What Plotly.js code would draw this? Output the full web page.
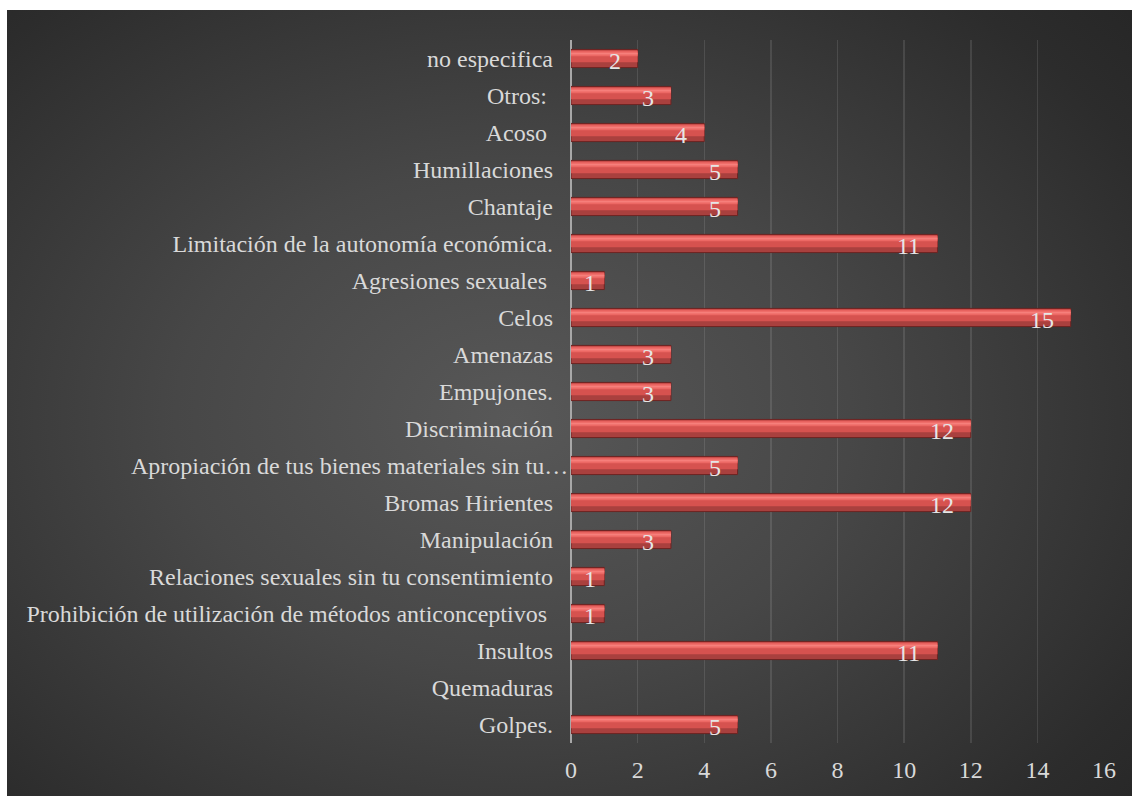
<!DOCTYPE html>
<html>
<head>
<meta charset="utf-8">
<script src="https://cdn.plot.ly/plotly-3.0.1.min.js"></script>
<style>
  html, body { margin: 0; padding: 0; background: #ffffff; width: 1132px; height: 796px; overflow: hidden; }
  #bg { position: absolute; left: 7px; top: 10px; width: 1125px; height: 786px;
        background: radial-gradient(ellipse 75% 80% at 45% 52%, #585858 0%, #474747 40%, #2c2c2c 85%, #262626 100%); }
  #chart { position: absolute; left: 0; top: 0; width: 1132px; height: 796px; }
</style>
</head>
<body>
<div id="bg"></div>
<div id="chart"></div>
<script>
// Categories listed bottom to top
const categories = [
  "Golpes.",
  "Quemaduras",
  "Insultos",
  "Prohibición de utilización de métodos anticonceptivos\u00a0",
  "Relaciones sexuales sin tu consentimiento",
  "Manipulación",
  "Bromas Hirientes",
  "Apropiación de tus bienes materiales sin tu…",
  "Discriminación",
  "Empujones.",
  "Amenazas",
  "Celos",
  "Agresiones sexuales\u00a0",
  "Limitación de la autonomía económica.",
  "Chantaje",
  "Humillaciones",
  "Acoso\u00a0",
  "Otros:\u00a0",
  "no especifica"
];
const values = [5, null, 11, 1, 1, 3, 12, 5, 12, 3, 3, 15, 1, 11, 5, 5, 4, 3, 2];
const xTicks = [0, 2, 4, 6, 8, 10, 12, 14, 16];
// the truncated label sits closer to the axis in the original
const closeLabel = "Apropiación de tus bienes materiales sin tu…";

const FONT = "'Liberation Serif', 'Times New Roman', serif";
const TXT = "#d9d9d9";
const W = 0.49;

function layer(color, offset, width, lineColor) {
  return {
    type: "bar", orientation: "h", x: values, y: categories,
    width: W * width, offset: offset,
    marker: { color: color, line: { color: lineColor || "rgba(0,0,0,0)", width: lineColor ? 1 : 0 } },
    hoverinfo: "skip", showlegend: false
  };
}

const traces = [
  layer("#a9403e", -W / 2, 1, "#6e2422"),
  layer("#d6524f", -W / 2 + W * 0.3, 0.66),
  layer("#ec6864", -W / 2 + W * 0.62, 0.28),
  layer("#f67f7b", -W / 2 + W * 0.72, 0.1)
];

const annotations = [];
categories.forEach((c, i) => {
  if (values[i] === null || values[i] === undefined) return;
  annotations.push({
    x: values[i], y: c, xref: "x", yref: "y",
    text: String(values[i]), showarrow: false,
    xanchor: "right", yanchor: "middle", xshift: values[i] < 2 ? -6 : -15, yshift: -2,
    font: { family: FONT, size: 24, color: "#e6e6e6" }
  });
});
annotations.push({
  x: 0, y: closeLabel, xref: "x", yref: "y", text: closeLabel, showarrow: false,
  xanchor: "right", yanchor: "middle", xshift: -1,
  font: { family: FONT, size: 24, color: TXT }
});

const layout = {
  width: 1132, height: 796,
  margin: { l: 571, r: 28, t: 40, b: 52.5, pad: 0 },
  paper_bgcolor: "rgba(0,0,0,0)",
  plot_bgcolor: "rgba(0,0,0,0)",
  barmode: "overlay",
  showlegend: false,
  font: { family: FONT, size: 24, color: TXT },
  xaxis: {
    range: [0, 16], tickvals: xTicks, ticktext: xTicks.map(String),
    showgrid: true, gridcolor: "rgba(255,255,255,0.11)", gridwidth: 1.5,
    zeroline: true, zerolinecolor: "#a8a8a8", zerolinewidth: 2,
    showline: false, ticks: "", ticklabelstandoff: 10,
    tickfont: { family: FONT, size: 24, color: TXT },
    fixedrange: true
  },
  yaxis: {
    type: "category", categoryorder: "array", categoryarray: categories,
    tickvals: categories,
    ticktext: categories.map(c => c === closeLabel ? "" : c),
    range: [-0.5, categories.length - 0.5],
    showgrid: false, zeroline: false, showline: false, ticks: "",
    ticklabelstandoff: 17,
    tickfont: { family: FONT, size: 24, color: TXT },
    automargin: false, fixedrange: true
  },
  annotations: annotations
};

Plotly.newPlot("chart", traces, layout, { displayModeBar: false, staticPlot: true });
</script>
</body>
</html>
